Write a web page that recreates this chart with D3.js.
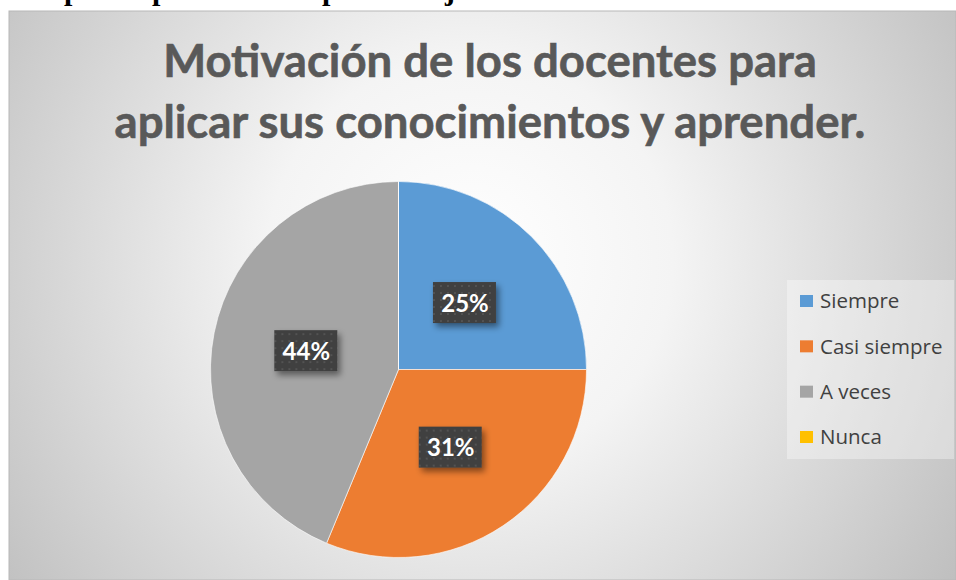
<!DOCTYPE html>
<html>
<head>
<meta charset="utf-8">
<script src="https://cdn.jsdelivr.net/npm/d3@7/dist/d3.min.js"></script>
<style>
  html, body { margin: 0; padding: 0; background: #ffffff; }
  svg { display: block; }
</style>
</head>
<body>
<svg id="chart" width="956" height="580"></svg>
<script>
// ---- data ----
const categories = ["Siempre", "Casi siempre", "A veces", "Nunca"];
const values = [4, 5, 7, 0];
const colors = ["#5B9BD5", "#ED7D31", "#A5A5A5", "#FFC000"];
const titleLines = ["Motivación de los docentes para", "aplicar sus conocimientos y aprender."];
const headerWords = ["para", "personal", "profesores", "jornada"];

const W = 956, H = 580;
const svg = d3.select("#chart");
const defs = svg.append("defs");

// background radial gradient
const rg = defs.append("radialGradient").attr("id", "bg")
  .attr("gradientUnits", "userSpaceOnUse")
  .attr("cx", 470).attr("cy", 260).attr("r", 580);
rg.append("stop").attr("offset", "0%").attr("stop-color", "#ffffff");
rg.append("stop").attr("offset", "35%").attr("stop-color", "#f4f4f4");
rg.append("stop").attr("offset", "100%").attr("stop-color", "#bfbfbf");

// dotted pattern for label boxes
const pat = defs.append("pattern").attr("id", "dots")
  .attr("patternUnits", "userSpaceOnUse").attr("width", 7).attr("height", 7);
pat.append("rect").attr("width", 7).attr("height", 7).attr("fill", "#404040");
pat.append("rect").attr("x", 3).attr("y", 3).attr("width", 2).attr("height", 2).attr("fill", "#525252");

const shadow = defs.append("filter").attr("id", "shadow")
  .attr("x", "-30%").attr("y", "-30%").attr("width", "160%").attr("height", "170%");
shadow.append("feDropShadow").attr("dx", 3).attr("dy", 4).attr("stdDeviation", 3)
  .attr("flood-color", "#000").attr("flood-opacity", 0.45);

// cut-off header text at top of page (as in the source page)
const hdr = svg.append("text")
  .attr("y", 0)
  .attr("font-family", "'Liberation Serif', serif")
  .attr("font-weight", "bold")
  .attr("font-size", 30)
  .attr("fill", "#000");
const hdrX = [64, 152, 322, 445];
headerWords.forEach((w, i) => hdr.append("tspan").attr("x", hdrX[i]).text(w));

// chart area
const area = { x: 9, y: 11, w: W - 9, h: H - 11 };
svg.append("rect").attr("x", area.x).attr("y", area.y)
  .attr("width", area.w).attr("height", area.h)
  .attr("fill", "url(#bg)").attr("stroke", "#b8b8b8").attr("stroke-width", 1);

// title
const title = svg.append("text")
  .attr("font-family", "Lato, 'Open Sans', sans-serif")
  .attr("font-weight", "bold")
  .attr("font-size", 45.5)
  .attr("fill", "#595959")
  .attr("stroke", "#595959").attr("stroke-width", 0.6)
  .attr("text-anchor", "middle");
titleLines.forEach((t, i) => title.append("tspan")
  .attr("x", 490).attr("y", 77 + i * 61).text(t));

// pie
const cx = 398.5, cy = 369.5, R = 188;
const total = d3.sum(values);
const pie = d3.pie().sort(null).value(d => d)(values);
const arc = d3.arc().innerRadius(0).outerRadius(R);
const g = svg.append("g").attr("transform", `translate(${cx},${cy})`);
g.selectAll("path").data(pie).join("path")
  .attr("d", arc)
  .attr("fill", (d, i) => colors[i])
  .attr("stroke", "#ffffff").attr("stroke-width", 0.6);

// labels
const fmt = d3.format(".0%");
const lab = g.selectAll("g.lab").data(pie.filter(d => d.value > 0)).join("g")
  .attr("class", "lab")
  .attr("transform", d => `translate(${arc.centroid(d)})`);
lab.append("rect")
  .attr("x", -32).attr("y", -21).attr("width", 63).attr("height", 41)
  .attr("fill", "url(#dots)").attr("filter", "url(#shadow)");
lab.append("text")
  .attr("text-anchor", "middle").attr("dy", "0.36em")
  .attr("font-family", "Lato, 'Open Sans', sans-serif")
  .attr("font-weight", "bold").attr("font-size", 24)
  .attr("fill", "#ffffff")
  .text(d => fmt(d.value / total));

// legend
const lg = svg.append("g");
lg.append("rect").attr("x", 787).attr("y", 280).attr("width", 167).attr("height", 179)
  .attr("fill", "#ffffff").attr("fill-opacity", 0.35);
const ly = d3.scalePoint().domain(categories).range([301, 437]);
const item = lg.selectAll("g.item").data(categories).join("g").attr("class", "item")
  .attr("transform", d => `translate(800,${ly(d)})`);
item.append("rect").attr("x", 0).attr("y", -6).attr("width", 13).attr("height", 12)
  .attr("fill", (d, i) => colors[i]);
item.append("text").attr("x", 20).attr("dy", "0.35em")
  .attr("font-family", "'Open Sans', Lato, sans-serif")
  .attr("font-size", 20.5).attr("fill", "#404040")
  .text(d => d);
</script>
</body>
</html>
